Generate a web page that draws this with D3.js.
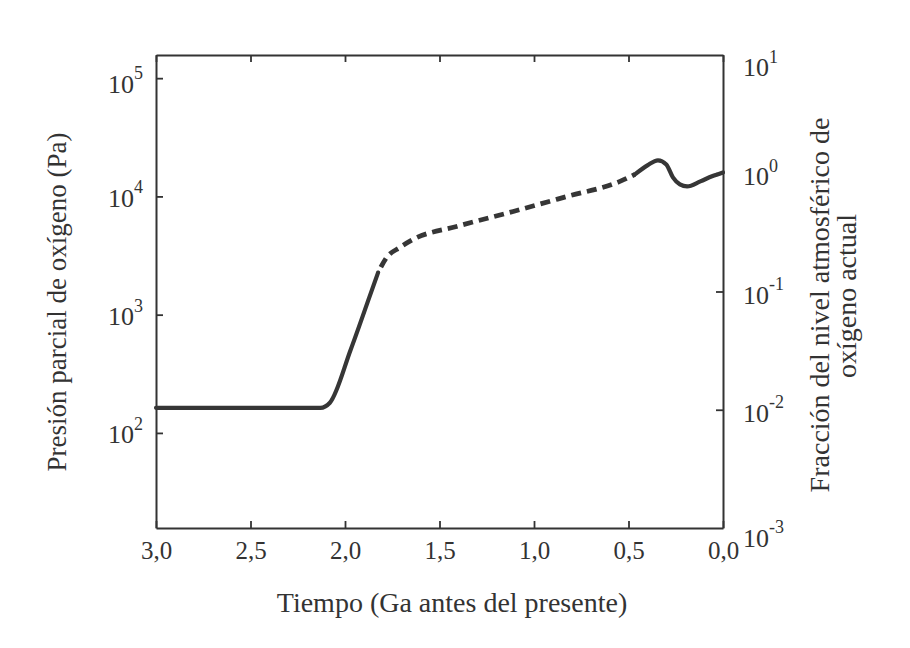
<!DOCTYPE html>
<html>
<head>
<meta charset="utf-8">
<script src="https://cdn.jsdelivr.net/npm/d3@7/dist/d3.min.js"></script>
<style>
  html, body { margin: 0; padding: 0; background: #ffffff; }
  svg { display: block; }
  text { font-family: "Liberation Serif", "Times New Roman", serif; fill: #333; }
</style>
</head>
<body>
<svg id="chart" width="910" height="648"></svg>
<script>
// ---- data ----
// time in Ga before present, O2 partial pressure in Pa
const solidEarlyTime  = [3.0, 2.13, 2.08, 1.97, 1.87, 1.825];
const solidEarlyPa    = [163, 163, 180, 505, 1420, 2270];
const dashedTime      = [1.825, 1.78, 1.71, 1.64, 1.41, 1.11, 0.825, 0.545, 0.466];
const dashedPa        = [2270, 3040, 3700, 4330, 5570, 7460, 10000, 13400, 15350];
const solidLateTime   = [0.466, 0.40, 0.344, 0.30, 0.265, 0.228, 0.19, 0.12, 0.058, 0.0];
const solidLatePa     = [15350, 18300, 20200, 18660, 14500, 12650, 12160, 13400, 14800, 15960];

const xTicks         = [3.0, 2.5, 2.0, 1.5, 1.0, 0.5, 0.0];
const leftExponents  = [2, 3, 4, 5];
const rightExponents = [-3, -2, -1, 0, 1];

const xTitle = "Tiempo (Ga antes del presente)";
const leftTitle = "Presión parcial de oxígeno (Pa)";
const rightTitle = ["Fracción del nivel atmosférico de", "oxígeno actual"];

// ---- layout ----
const svg = d3.select("#chart");
const L = 156, R = 723, T = 55, B = 528;

const x = d3.scaleLinear().domain([3, 0]).range([L, R]);
const yL = d3.scaleLog().domain([15.7, 157000]).range([B, T]);
const yR = d3.scaleLog().domain([0.001, 10]).range([B, T]);

const axisColor = "#333";
const serif = '"Liberation Serif", "Times New Roman", serif';

function styleAxis(g) {
  g.selectAll("path.domain").attr("stroke", axisColor).attr("stroke-width", 2);
  g.selectAll(".tick line").attr("stroke", axisColor).attr("stroke-width", 1.8);
  g.selectAll("text").attr("fill", "#333").style("font-family", serif);
}

// bottom axis
const gB = svg.append("g").attr("transform", `translate(0,${B})`)
  .call(d3.axisBottom(x).tickValues(xTicks).tickSizeInner(-7).tickSizeOuter(0)
    .tickPadding(13).tickFormat(d => d.toFixed(1).replace(".", ",")));
gB.selectAll("text").attr("font-size", 25);
styleAxis(gB);

// top axis (ticks only)
const gT = svg.append("g").attr("transform", `translate(0,${T})`)
  .call(d3.axisTop(x).tickValues(xTicks).tickSizeInner(-7).tickSizeOuter(0).tickFormat(""));
styleAxis(gT);

// left axis
const gL = svg.append("g").attr("transform", `translate(${L},0)`)
  .call(d3.axisLeft(yL).tickValues(leftExponents.map(e => Math.pow(10, e)))
    .tickSizeInner(-7).tickSizeOuter(0).tickPadding(13).tickFormat(() => ""));
styleAxis(gL);
gL.selectAll(".tick text").each(function(d, i) {
  const t = d3.select(this).attr("font-size", 26).attr("dy", leftExponents[i] === 5 ? "0.55em" : "0.38em");
  t.append("tspan").text("10");
  t.append("tspan").attr("font-size", 18).attr("dy", "-0.75em").text(leftExponents[i]);
});

// right axis
const gR = svg.append("g").attr("transform", `translate(${R},0)`)
  .call(d3.axisRight(yR).tickValues(rightExponents.map(e => Math.pow(10, e)))
    .tickSizeInner(-7).tickSizeOuter(0).tickPadding(20).tickFormat(() => ""));
styleAxis(gR);
gR.selectAll(".tick line").filter(d => d <= 0.0011 || d >= 9.9).remove();
gR.selectAll(".tick text").each(function(d, i) {
  const e = rightExponents[i];
  const t = d3.select(this).attr("font-size", 26)
    .attr("dy", e === 1 ? "0.8em" : (e === -3 ? "0.7em" : "0.45em"));
  t.append("tspan").text("10");
  t.append("tspan").attr("font-size", 18).attr("dy", "-0.75em").text(e);
});

// ---- curve ----
const line = d3.line().x(d => x(d[0])).y(d => yL(d[1])).curve(d3.curveMonotoneX);
const curveColor = "#363636";

svg.append("path").datum(d3.zip(solidEarlyTime, solidEarlyPa))
  .attr("d", line).attr("fill", "none").attr("stroke", curveColor)
  .attr("stroke-width", 4.2).attr("stroke-linejoin", "round").attr("stroke-linecap", "round");

svg.append("path").datum(d3.zip(dashedTime, dashedPa))
  .attr("d", line).attr("fill", "none").attr("stroke", curveColor)
  .attr("stroke-width", 4.8).attr("stroke-dasharray", "10,6").attr("stroke-dashoffset", 10);

svg.append("path").datum(d3.zip(solidLateTime, solidLatePa))
  .attr("d", line).attr("fill", "none").attr("stroke", curveColor)
  .attr("stroke-width", 4.2).attr("stroke-linejoin", "round").attr("stroke-linecap", "round");

// ---- titles ----
svg.append("text").attr("x", 452).attr("y", 612).attr("text-anchor", "middle")
  .attr("font-size", 28).text(xTitle);

svg.append("text").attr("transform", "translate(66,302) rotate(-90)")
  .attr("text-anchor", "middle").attr("font-size", 27).text(leftTitle);

svg.append("text").attr("transform", "translate(829,305) rotate(-90)")
  .attr("text-anchor", "middle").attr("font-size", 28).text(rightTitle[0]);
svg.append("text").attr("transform", "translate(856,296) rotate(-90)")
  .attr("text-anchor", "middle").attr("font-size", 28).text(rightTitle[1]);
</script>
</body>
</html>
